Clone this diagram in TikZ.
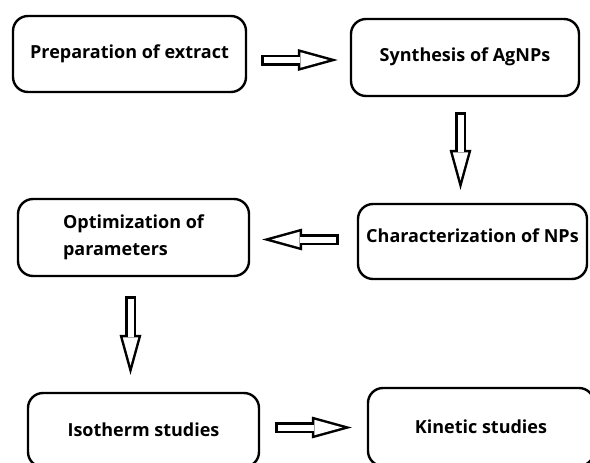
\documentclass[tikz,border=0pt]{standalone}
\usepackage{fontspec}
\setmainfont{Open Sans}
\usetikzlibrary{arrows.meta}

\begin{document}
\begin{tikzpicture}[x=1pt,y=-1pt]
	\tikzstyle{box}=[draw=black,line width=2.4pt,rounded corners=15pt,inner sep=0pt,font=\bfseries\fontsize{18}{27}\selectfont]
	\tikzstyle{arrout}=[black,line width=11pt,-{Triangle[length=40pt,width=22pt,line width=0pt]}]
	\tikzstyle{arrin}=[white,line width=6pt,-{Triangle[length=28.1pt,width=15.5pt,line width=0pt]}]
	\useasboundingbox (0,0) rectangle (590,463);
	\clip (0,0) rectangle (590,463);
	\fill[white] (0,0) rectangle (590,463);

	\node[box,minimum width=233pt,minimum height=76pt] (prep) at (129.5,54) {Preparation of extract};
	\node[box,minimum width=228pt,minimum height=77pt,text depth=6pt] (synth) at (465,57.5) {Synthesis of AgNPs};
	\node[box,minimum width=231pt,minimum height=77pt,align=left] (optim) at (133.5,237.5) {Optimization of\\parameters};
	\node[box,minimum width=229pt,minimum height=75pt,text depth=12pt] (charac) at (472.5,241.5) {Characterization of NPs};
	\node[box,minimum width=231pt,minimum height=74pt] (iso) at (143.5,430) {Isotherm studies};
	\node[box,minimum width=226pt,minimum height=78pt] (kin) at (481,427) {Kinetic studies};

	% outline of the block arrows
	\path[arrout]
	([yshift=-6pt]prep.east) edge[shorten <=14pt,shorten >=12pt] ([yshift=-6pt]prep.east -| synth.west)
	([xshift=-4.5pt]synth.south) edge[shorten <=15pt,shorten >=13pt] ([xshift=-4.5pt]synth.south |- charac.north)
	([yshift=2pt]charac.west) edge[shorten <=18pt,shorten >=12pt] ([yshift=2pt]charac.west -| optim.east)
	([xshift=-3pt]optim.south) edge[shorten <=19pt,shorten >=17pt] ([xshift=-3pt]optim.south |- iso.north)
	([yshift=2.5pt]iso.east) edge[shorten <=15pt,shorten >=15pt] ([yshift=2.5pt]iso.east -| kin.west)
	;
	% hollow inside
	\path[arrin]
	([yshift=-6pt]prep.east) edge[shorten <=16.5pt,shorten >=21.4pt] ([yshift=-6pt]prep.east -| synth.west)
	([xshift=-4.5pt]synth.south) edge[shorten <=17.5pt,shorten >=22.4pt] ([xshift=-4.5pt]synth.south |- charac.north)
	([yshift=2pt]charac.west) edge[shorten <=20.5pt,shorten >=21.4pt] ([yshift=2pt]charac.west -| optim.east)
	([xshift=-3pt]optim.south) edge[shorten <=21.5pt,shorten >=26.4pt] ([xshift=-3pt]optim.south |- iso.north)
	([yshift=2.5pt]iso.east) edge[shorten <=17.5pt,shorten >=24.4pt] ([yshift=2.5pt]iso.east -| kin.west)
	;
\end{tikzpicture}
\end{document}
